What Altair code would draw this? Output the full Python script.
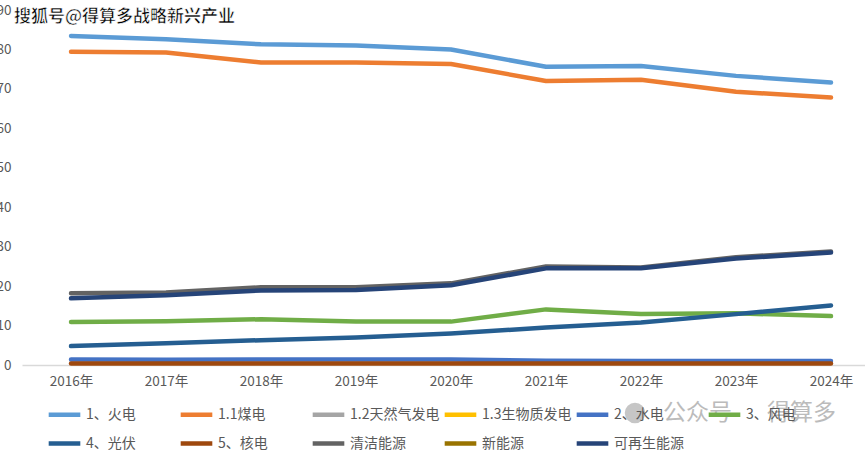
import altair as alt
import pandas as pd

years = [2016, 2017, 2018, 2019, 2020, 2021, 2022, 2023, 2024]
series_names = ["1、火电", "1.1煤电", "1.2天然气发电", "1.3生物质发电", "2、水电",
                "3、风电", "4、光伏", "5、核电", "清洁能源", "新能源", "可再生能源"]
series_colors = ["#5B9BD5", "#ED7D31", "#A5A5A5", "#FFC000", "#4472C4",
                 "#70AD47", "#255E91", "#9E480E", "#636363", "#997300", "#264478"]

huodian = [83.4, 82.6, 81.3, 81.0, 80.0, 75.6, 75.8, 73.3, 71.6]
meidian = [79.4, 79.2, 76.7, 76.7, 76.3, 72.0, 72.3, 69.3, 67.8]
tianranqi = [None, None, None, None, None, None, None, None, None]
shengwuzhi = [None, None, None, None, None, None, None, None, None]
shuidian = [1.4, 1.3, 1.4, 1.4, 1.4, 1.1, 1.0, 1.0, 1.0]
fengdian = [10.9, 11.1, 11.6, 11.0, 11.0, 14.1, 12.9, 13.1, 12.4]
guangfu = [4.8, 5.5, 6.3, 7.0, 8.0, 9.5, 10.8, 12.9, 15.1]
hedian = [0.4, 0.4, 0.4, 0.4, 0.4, 0.4, 0.4, 0.4, 0.4]
qingjie = [18.2, 18.4, 19.7, 19.7, 20.7, 25.0, 24.7, 27.3, 28.8]
xinnengyuan = [None, None, None, None, None, None, None, None, None]
kezaisheng = [16.9, 17.7, 18.9, 19.0, 20.2, 24.5, 24.5, 27.0, 28.5]

all_series = [huodian, meidian, tianranqi, shengwuzhi, shuidian, fengdian,
              guangfu, hedian, qingjie, xinnengyuan, kezaisheng]

rows = []
for name, vals in zip(series_names, all_series):
    for y, v in zip(years, vals):
        rows.append({"year": y, "series": name, "value": v})
df = pd.DataFrame(rows)

FONT = "Noto Sans CJK SC"
GREY = "#595959"

lines = alt.Chart(df).mark_line(strokeWidth=4.5, strokeCap="round", strokeJoin="round").encode(
    x=alt.X("year:Q",
            scale=alt.Scale(domain=[2015.484, 2024.358], nice=False, zero=False),
            axis=alt.Axis(values=years, labelExpr="datum.value + '年'", title=None,
                          grid=False, ticks=False, domain=True, domainColor="#d9d9d9",
                          domainWidth=1.3, labelColor=GREY, labelFontSize=13.5,
                          labelFont=FONT, labelPadding=9, labelFlush=False)),
    y=alt.Y("value:Q",
            scale=alt.Scale(domain=[0, 90], nice=False),
            axis=alt.Axis(values=[0, 10, 20, 30, 40, 50, 60, 70, 80, 90], title=None,
                          grid=False, ticks=False, domain=False, labelColor=GREY,
                          labelFontSize=13.5, labelFont=FONT, labelPadding=11)),
    color=alt.Color("series:N",
                    scale=alt.Scale(domain=series_names, range=series_colors),
                    sort=series_names,
                    legend=alt.Legend(title=None, orient="none", legendX=24, legendY=386,
                                      direction="horizontal", columns=6, gridAlign="all",
                                      columnPadding=-5, rowPadding=1,
                                      symbolType="stroke", symbolSize=1000,
                                      symbolStrokeWidth=4.5, labelFont=FONT,
                                      labelFontSize=14, labelColor=GREY,
                                      labelOffset=3, padding=0)),
)

one = pd.DataFrame({"k": [0]})
sohu = alt.Chart(one).mark_text(
    text="搜狐号@得算多战略新兴产业", font=FONT, fontSize=17, fontWeight="bold",
    color="black", stroke="white", strokeWidth=0.6, align="left", baseline="middle"
).encode(x=alt.value(-8), y=alt.value(7))

wm_icon = alt.Chart(one).mark_circle(size=420, color="#b8b8b8", opacity=0.8).encode(
    x=alt.value(613), y=alt.value(403))
wm1 = alt.Chart(one).mark_text(
    text="公众号", font=FONT, fontSize=23, color="#b0b0b0", opacity=0.85,
    align="left", baseline="middle").encode(x=alt.value(641), y=alt.value(403))
wm2 = alt.Chart(one).mark_text(
    text="得算多", font=FONT, fontSize=23, color="#b0b0b0", opacity=0.85,
    align="left", baseline="middle").encode(x=alt.value(745), y=alt.value(403))

chart = alt.layer(lines, wm_icon, wm1, wm2, sohu).properties(
    width=843, height=355,
    autosize=alt.AutoSizeParams(type="none"),
    padding={"left": 22, "top": 10, "right": 0, "bottom": 86},
    background="white",
).configure_view(stroke=None)

chart.save("out.html", embed_options={"renderer": "svg", "actions": False})
